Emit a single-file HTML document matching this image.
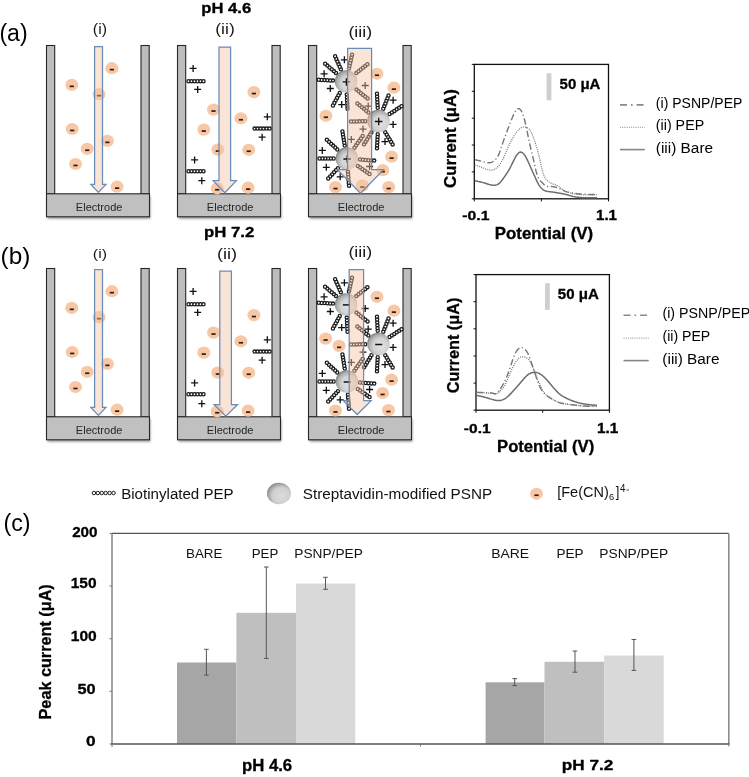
<!DOCTYPE html>
<html><head><meta charset="utf-8"><style>
html,body{margin:0;padding:0;background:#fff;width:749px;height:777px;overflow:hidden;position:relative}
text{font-family:"Liberation Sans",sans-serif}
text[font-weight="bold"]{stroke:#000;stroke-width:0.3px}
</style></head><body>
<svg width="749" height="777" viewBox="0 0 749 777" style="position:absolute;left:0;top:0;will-change:transform" font-family="Liberation Sans, sans-serif">
<defs>
<radialGradient id="sph" cx="0.58" cy="0.58" r="0.62" fx="0.62" fy="0.62">
<stop offset="0" stop-color="#e2e2e2"/><stop offset="0.55" stop-color="#d2d2d2"/><stop offset="0.85" stop-color="#a8a8a8"/><stop offset="1" stop-color="#6e6e6e"/></radialGradient>
<radialGradient id="sphL" cx="0.58" cy="0.58" r="0.62" fx="0.62" fy="0.62">
<stop offset="0" stop-color="#dcdcdc"/><stop offset="0.6" stop-color="#d0d0d0"/><stop offset="0.88" stop-color="#a0a0a0"/><stop offset="1" stop-color="#707070"/></radialGradient>
<filter id="soft" x="-30%" y="-30%" width="160%" height="160%"><feGaussianBlur stdDeviation="0.45"/></filter>
<filter id="shadow" x="-10%" y="-30%" width="120%" height="160%"><feGaussianBlur stdDeviation="1.3"/></filter>
</defs>
<rect width="749" height="777" fill="#fff"/>
<text x="-0.59" y="40.71" font-size="23.74" font-weight="normal" textLength="28.22" lengthAdjust="spacingAndGlyphs" fill="#000">(a)</text>
<text x="0.64" y="263.94" font-size="23.64" font-weight="normal" textLength="29.67" lengthAdjust="spacingAndGlyphs" fill="#000">(b)</text>
<text x="3.40" y="531.13" font-size="23.21" font-weight="normal" textLength="27.12" lengthAdjust="spacingAndGlyphs" fill="#000">(c)</text>
<text x="201.32" y="12.60" font-size="14.29" font-weight="bold" textLength="49.88" lengthAdjust="spacingAndGlyphs" fill="#000">pH 4.6</text>
<text x="203.91" y="237.28" font-size="14.84" font-weight="bold" textLength="50.38" lengthAdjust="spacingAndGlyphs" fill="#000">pH 7.2</text>
<text x="92.84" y="34.37" font-size="15.40" font-weight="normal" textLength="14.17" lengthAdjust="spacingAndGlyphs" fill="#1a1a1a">(i)</text>
<text x="215.25" y="34.24" font-size="14.12" font-weight="normal" textLength="19.50" lengthAdjust="spacingAndGlyphs" fill="#1a1a1a">(ii)</text>
<text x="348.43" y="36.64" font-size="14.12" font-weight="normal" textLength="23.79" lengthAdjust="spacingAndGlyphs" fill="#1a1a1a">(iii)</text>
<text x="92.84" y="258.19" font-size="13.37" font-weight="normal" textLength="14.17" lengthAdjust="spacingAndGlyphs" fill="#1a1a1a">(i)</text>
<text x="216.90" y="258.64" font-size="14.12" font-weight="normal" textLength="20.29" lengthAdjust="spacingAndGlyphs" fill="#1a1a1a">(ii)</text>
<text x="348.43" y="257.32" font-size="14.65" font-weight="normal" textLength="23.79" lengthAdjust="spacingAndGlyphs" fill="#1a1a1a">(iii)</text>
<rect x="46.5" y="45.5" width="8.2" height="148.3" fill="#bdbdbd" stroke="#262626" stroke-width="1.1"/>
<rect x="141.0" y="45.5" width="8.2" height="148.3" fill="#bdbdbd" stroke="#262626" stroke-width="1.1"/>
<rect x="47.5" y="196.0" width="103" height="23" fill="#000" opacity="0.35" filter="url(#shadow)"/>
<rect x="46.5" y="193.8" width="103" height="23" fill="#c0c0c0" stroke="#262626" stroke-width="1.1"/>
<text x="75.82" y="211.29" font-size="11.16" font-weight="normal" textLength="46.68" lengthAdjust="spacingAndGlyphs" fill="#262626">Electrode</text>
<ellipse cx="111.9" cy="68.2" rx="6.5" ry="6.1" fill="#f8c8a6" filter="url(#soft)"/>
<rect x="109.8" y="68.8" width="4.2" height="1.7" fill="#2b1d14"/>
<ellipse cx="71.8" cy="84.9" rx="6.5" ry="6.1" fill="#f8c8a6" filter="url(#soft)"/>
<rect x="69.7" y="85.5" width="4.2" height="1.7" fill="#2b1d14"/>
<ellipse cx="99.0" cy="94.2" rx="6.5" ry="6.1" fill="#f8c8a6" filter="url(#soft)"/>
<rect x="96.9" y="94.8" width="4.2" height="1.7" fill="#2b1d14"/>
<ellipse cx="72.2" cy="129.0" rx="6.5" ry="6.1" fill="#f8c8a6" filter="url(#soft)"/>
<rect x="70.1" y="129.6" width="4.2" height="1.7" fill="#2b1d14"/>
<ellipse cx="107.4" cy="140.9" rx="6.5" ry="6.1" fill="#f8c8a6" filter="url(#soft)"/>
<rect x="105.3" y="141.5" width="4.2" height="1.7" fill="#2b1d14"/>
<ellipse cx="87.2" cy="148.8" rx="6.5" ry="6.1" fill="#f8c8a6" filter="url(#soft)"/>
<rect x="85.1" y="149.4" width="4.2" height="1.7" fill="#2b1d14"/>
<ellipse cx="75.5" cy="164.0" rx="6.5" ry="6.1" fill="#f8c8a6" filter="url(#soft)"/>
<rect x="73.4" y="164.6" width="4.2" height="1.7" fill="#2b1d14"/>
<ellipse cx="117.1" cy="186.7" rx="6.5" ry="6.1" fill="#f8c8a6" filter="url(#soft)"/>
<rect x="115.0" y="187.3" width="4.2" height="1.7" fill="#2b1d14"/>
<path d="M94.6 46.6H102.5V184.4H106.0L98.4 192.4L90.8 184.4H94.6Z" fill="#f5c4a2" fill-opacity="0.45" stroke="#6a8cb8" stroke-width="1.25" stroke-linejoin="miter"/>
<rect x="177.5" y="45.5" width="8.2" height="148.3" fill="#bdbdbd" stroke="#262626" stroke-width="1.1"/>
<rect x="272.0" y="45.5" width="8.2" height="148.3" fill="#bdbdbd" stroke="#262626" stroke-width="1.1"/>
<rect x="178.5" y="196.0" width="103" height="23" fill="#000" opacity="0.35" filter="url(#shadow)"/>
<rect x="177.5" y="193.8" width="103" height="23" fill="#c0c0c0" stroke="#262626" stroke-width="1.1"/>
<text x="206.82" y="211.29" font-size="11.16" font-weight="normal" textLength="46.68" lengthAdjust="spacingAndGlyphs" fill="#262626">Electrode</text>
<ellipse cx="253.9" cy="92.1" rx="6.5" ry="6.1" fill="#f8c8a6" filter="url(#soft)"/>
<rect x="251.8" y="92.7" width="4.2" height="1.7" fill="#2b1d14"/>
<ellipse cx="213.5" cy="109.6" rx="6.5" ry="6.1" fill="#f8c8a6" filter="url(#soft)"/>
<rect x="211.4" y="110.2" width="4.2" height="1.7" fill="#2b1d14"/>
<ellipse cx="240.9" cy="118.3" rx="6.5" ry="6.1" fill="#f8c8a6" filter="url(#soft)"/>
<rect x="238.8" y="118.9" width="4.2" height="1.7" fill="#2b1d14"/>
<ellipse cx="203.8" cy="129.6" rx="6.5" ry="6.1" fill="#f8c8a6" filter="url(#soft)"/>
<rect x="201.7" y="130.2" width="4.2" height="1.7" fill="#2b1d14"/>
<ellipse cx="217.8" cy="149.6" rx="6.5" ry="6.1" fill="#f8c8a6" filter="url(#soft)"/>
<rect x="215.7" y="150.2" width="4.2" height="1.7" fill="#2b1d14"/>
<ellipse cx="248.7" cy="149.8" rx="6.5" ry="6.1" fill="#f8c8a6" filter="url(#soft)"/>
<rect x="246.6" y="150.4" width="4.2" height="1.7" fill="#2b1d14"/>
<ellipse cx="217.2" cy="188.3" rx="6.5" ry="6.1" fill="#f8c8a6" filter="url(#soft)"/>
<rect x="215.1" y="188.9" width="4.2" height="1.7" fill="#2b1d14"/>
<ellipse cx="248.1" cy="187.7" rx="6.5" ry="6.1" fill="#f8c8a6" filter="url(#soft)"/>
<rect x="246.0" y="188.3" width="4.2" height="1.7" fill="#2b1d14"/>
<g fill="#fff" stroke="#1a1a1a" stroke-width="1.3"><circle cx="188.50" cy="81.20" r="1.6"/><circle cx="191.50" cy="81.20" r="1.6"/><circle cx="194.50" cy="81.20" r="1.6"/><circle cx="197.50" cy="81.20" r="1.6"/><circle cx="200.50" cy="81.20" r="1.6"/><circle cx="203.50" cy="81.20" r="1.6"/></g>
<path d="M189.6 68.4H196.6M193.1 64.9V71.9" stroke="#111" stroke-width="1.3" fill="none"/>
<path d="M194.2 89.4H201.2M197.7 85.9V92.9" stroke="#111" stroke-width="1.3" fill="none"/>
<g fill="#fff" stroke="#1a1a1a" stroke-width="1.3"><circle cx="188.50" cy="171.20" r="1.6"/><circle cx="191.50" cy="171.20" r="1.6"/><circle cx="194.50" cy="171.20" r="1.6"/><circle cx="197.50" cy="171.20" r="1.6"/><circle cx="200.50" cy="171.20" r="1.6"/><circle cx="203.50" cy="171.20" r="1.6"/></g>
<path d="M191.1 159.9H198.1M194.6 156.4V163.4" stroke="#111" stroke-width="1.3" fill="none"/>
<path d="M198.3 180.7H205.3M201.8 177.2V184.2" stroke="#111" stroke-width="1.3" fill="none"/>
<g fill="#fff" stroke="#1a1a1a" stroke-width="1.3"><circle cx="254.60" cy="128.60" r="1.6"/><circle cx="257.60" cy="128.60" r="1.6"/><circle cx="260.60" cy="128.60" r="1.6"/><circle cx="263.60" cy="128.60" r="1.6"/><circle cx="266.60" cy="128.60" r="1.6"/><circle cx="269.60" cy="128.60" r="1.6"/></g>
<path d="M263.8 116.8H270.8M267.3 113.3V120.3" stroke="#111" stroke-width="1.3" fill="none"/>
<path d="M258.6 137.2H265.6M262.1 133.7V140.7" stroke="#111" stroke-width="1.3" fill="none"/>
<path d="M219.0 47.0H230.6V180.7H236.4L224.8 192.8L213.2 180.7H219.0Z" fill="#f5c4a2" fill-opacity="0.45" stroke="#6a8cb8" stroke-width="1.25" stroke-linejoin="miter"/>
<rect x="308.5" y="45.5" width="8.2" height="148.3" fill="#bdbdbd" stroke="#262626" stroke-width="1.1"/>
<rect x="403.0" y="45.5" width="8.2" height="148.3" fill="#bdbdbd" stroke="#262626" stroke-width="1.1"/>
<rect x="309.5" y="196.0" width="103" height="23" fill="#000" opacity="0.35" filter="url(#shadow)"/>
<rect x="308.5" y="193.8" width="103" height="23" fill="#c0c0c0" stroke="#262626" stroke-width="1.1"/>
<text x="337.82" y="211.29" font-size="11.16" font-weight="normal" textLength="46.68" lengthAdjust="spacingAndGlyphs" fill="#262626">Electrode</text>
<ellipse cx="377.0" cy="73.8" rx="6.5" ry="6.1" fill="#f8c8a6" filter="url(#soft)"/>
<rect x="374.9" y="74.4" width="4.2" height="1.7" fill="#2b1d14"/>
<ellipse cx="393.9" cy="87.7" rx="6.5" ry="6.1" fill="#f8c8a6" filter="url(#soft)"/>
<rect x="391.8" y="88.3" width="4.2" height="1.7" fill="#2b1d14"/>
<ellipse cx="325.9" cy="115.8" rx="6.5" ry="6.1" fill="#f8c8a6" filter="url(#soft)"/>
<rect x="323.8" y="116.4" width="4.2" height="1.7" fill="#2b1d14"/>
<ellipse cx="391.6" cy="156.7" rx="6.5" ry="6.1" fill="#f8c8a6" filter="url(#soft)"/>
<rect x="389.5" y="157.3" width="4.2" height="1.7" fill="#2b1d14"/>
<ellipse cx="382.8" cy="170.2" rx="6.5" ry="6.1" fill="#f8c8a6" filter="url(#soft)"/>
<rect x="380.7" y="170.8" width="4.2" height="1.7" fill="#2b1d14"/>
<ellipse cx="335.5" cy="187.1" rx="6.5" ry="6.1" fill="#f8c8a6" filter="url(#soft)"/>
<rect x="333.4" y="187.7" width="4.2" height="1.7" fill="#2b1d14"/>
<ellipse cx="362.3" cy="185.6" rx="6.5" ry="6.1" fill="#f8c8a6" filter="url(#soft)"/>
<rect x="360.2" y="186.2" width="4.2" height="1.7" fill="#2b1d14"/>
<ellipse cx="388.7" cy="187.1" rx="6.5" ry="6.1" fill="#f8c8a6" filter="url(#soft)"/>
<rect x="386.6" y="187.7" width="4.2" height="1.7" fill="#2b1d14"/>
<g fill="#fff" stroke="#1a1a1a" stroke-width="1.3"><circle cx="332.92" cy="80.62" r="1.6"/><circle cx="330.09" cy="80.45" r="1.6"/><circle cx="327.25" cy="80.28" r="1.6"/><circle cx="324.42" cy="80.11" r="1.6"/><circle cx="321.58" cy="79.94" r="1.6"/><circle cx="318.75" cy="79.78" r="1.6"/></g>
<g fill="#fff" stroke="#1a1a1a" stroke-width="1.3"><circle cx="335.99" cy="72.92" r="1.6"/><circle cx="333.81" cy="71.09" r="1.6"/><circle cx="331.64" cy="69.26" r="1.6"/><circle cx="329.46" cy="67.44" r="1.6"/><circle cx="327.29" cy="65.61" r="1.6"/><circle cx="325.11" cy="63.79" r="1.6"/></g>
<g fill="#fff" stroke="#1a1a1a" stroke-width="1.3"><circle cx="340.82" cy="69.30" r="1.6"/><circle cx="339.68" cy="66.70" r="1.6"/><circle cx="338.54" cy="64.10" r="1.6"/><circle cx="337.40" cy="61.50" r="1.6"/><circle cx="336.27" cy="58.89" r="1.6"/><circle cx="335.13" cy="56.29" r="1.6"/></g>
<g fill="#fff" stroke="#1a1a1a" stroke-width="1.3"><circle cx="348.96" cy="68.51" r="1.6"/><circle cx="349.57" cy="65.74" r="1.6"/><circle cx="350.19" cy="62.97" r="1.6"/><circle cx="350.80" cy="60.19" r="1.6"/><circle cx="351.42" cy="57.42" r="1.6"/><circle cx="352.03" cy="54.65" r="1.6"/></g>
<g fill="#fff" stroke="#1a1a1a" stroke-width="1.3"><circle cx="356.36" cy="73.09" r="1.6"/><circle cx="358.57" cy="71.31" r="1.6"/><circle cx="360.77" cy="69.52" r="1.6"/><circle cx="362.98" cy="67.73" r="1.6"/><circle cx="365.19" cy="65.94" r="1.6"/><circle cx="367.39" cy="64.16" r="1.6"/></g>
<g fill="#fff" stroke="#1a1a1a" stroke-width="1.3"><circle cx="356.44" cy="89.60" r="1.6"/><circle cx="358.67" cy="91.36" r="1.6"/><circle cx="360.90" cy="93.13" r="1.6"/><circle cx="363.12" cy="94.89" r="1.6"/><circle cx="365.35" cy="96.66" r="1.6"/><circle cx="367.57" cy="98.42" r="1.6"/></g>
<g fill="#fff" stroke="#1a1a1a" stroke-width="1.3"><circle cx="346.79" cy="94.58" r="1.6"/><circle cx="346.94" cy="97.42" r="1.6"/><circle cx="347.09" cy="100.25" r="1.6"/><circle cx="347.24" cy="103.09" r="1.6"/><circle cx="347.39" cy="105.93" r="1.6"/><circle cx="347.53" cy="108.76" r="1.6"/></g>
<g fill="#fff" stroke="#1a1a1a" stroke-width="1.3"><circle cx="339.76" cy="92.98" r="1.6"/><circle cx="338.40" cy="95.47" r="1.6"/><circle cx="337.03" cy="97.96" r="1.6"/><circle cx="335.67" cy="100.45" r="1.6"/><circle cx="334.31" cy="102.94" r="1.6"/><circle cx="332.94" cy="105.43" r="1.6"/></g>
<g fill="#fff" stroke="#1a1a1a" stroke-width="1.3"><circle cx="377.71" cy="107.82" r="1.6"/><circle cx="377.56" cy="104.98" r="1.6"/><circle cx="377.41" cy="102.15" r="1.6"/><circle cx="377.26" cy="99.31" r="1.6"/><circle cx="377.11" cy="96.47" r="1.6"/><circle cx="376.97" cy="93.64" r="1.6"/></g>
<g fill="#fff" stroke="#1a1a1a" stroke-width="1.3"><circle cx="383.28" cy="108.74" r="1.6"/><circle cx="384.33" cy="106.10" r="1.6"/><circle cx="385.38" cy="103.46" r="1.6"/><circle cx="386.43" cy="100.82" r="1.6"/><circle cx="387.48" cy="98.18" r="1.6"/><circle cx="388.53" cy="95.54" r="1.6"/></g>
<g fill="#fff" stroke="#1a1a1a" stroke-width="1.3"><circle cx="389.55" cy="113.93" r="1.6"/><circle cx="391.94" cy="112.41" r="1.6"/><circle cx="394.34" cy="110.88" r="1.6"/><circle cx="396.74" cy="109.36" r="1.6"/><circle cx="399.14" cy="107.84" r="1.6"/><circle cx="401.53" cy="106.32" r="1.6"/></g>
<g fill="#fff" stroke="#1a1a1a" stroke-width="1.3"><circle cx="365.20" cy="121.23" r="1.6"/><circle cx="362.36" cy="121.28" r="1.6"/><circle cx="359.52" cy="121.33" r="1.6"/><circle cx="356.68" cy="121.38" r="1.6"/><circle cx="353.84" cy="121.43" r="1.6"/><circle cx="351.00" cy="121.48" r="1.6"/></g>
<g fill="#fff" stroke="#1a1a1a" stroke-width="1.3"><circle cx="368.29" cy="112.52" r="1.6"/><circle cx="366.11" cy="110.69" r="1.6"/><circle cx="363.94" cy="108.86" r="1.6"/><circle cx="361.76" cy="107.04" r="1.6"/><circle cx="359.59" cy="105.21" r="1.6"/><circle cx="357.41" cy="103.39" r="1.6"/></g>
<g fill="#fff" stroke="#1a1a1a" stroke-width="1.3"><circle cx="371.48" cy="132.24" r="1.6"/><circle cx="370.00" cy="134.66" r="1.6"/><circle cx="368.51" cy="137.08" r="1.6"/><circle cx="367.02" cy="139.50" r="1.6"/><circle cx="365.53" cy="141.92" r="1.6"/><circle cx="364.04" cy="144.34" r="1.6"/></g>
<g fill="#fff" stroke="#1a1a1a" stroke-width="1.3"><circle cx="377.71" cy="134.18" r="1.6"/><circle cx="377.56" cy="137.02" r="1.6"/><circle cx="377.41" cy="139.85" r="1.6"/><circle cx="377.26" cy="142.69" r="1.6"/><circle cx="377.11" cy="145.53" r="1.6"/><circle cx="376.97" cy="148.36" r="1.6"/></g>
<g fill="#fff" stroke="#1a1a1a" stroke-width="1.3"><circle cx="385.26" cy="132.28" r="1.6"/><circle cx="386.73" cy="134.71" r="1.6"/><circle cx="388.21" cy="137.13" r="1.6"/><circle cx="389.68" cy="139.56" r="1.6"/><circle cx="391.16" cy="141.99" r="1.6"/><circle cx="392.63" cy="144.41" r="1.6"/></g>
<g fill="#fff" stroke="#1a1a1a" stroke-width="1.3"><circle cx="333.70" cy="158.50" r="1.6"/><circle cx="330.86" cy="158.50" r="1.6"/><circle cx="328.02" cy="158.50" r="1.6"/><circle cx="325.18" cy="158.50" r="1.6"/><circle cx="322.34" cy="158.50" r="1.6"/><circle cx="319.50" cy="158.50" r="1.6"/></g>
<g fill="#fff" stroke="#1a1a1a" stroke-width="1.3"><circle cx="337.25" cy="149.50" r="1.6"/><circle cx="335.17" cy="147.56" r="1.6"/><circle cx="333.09" cy="145.62" r="1.6"/><circle cx="331.01" cy="143.69" r="1.6"/><circle cx="328.94" cy="141.75" r="1.6"/><circle cx="326.86" cy="139.81" r="1.6"/></g>
<g fill="#fff" stroke="#1a1a1a" stroke-width="1.3"><circle cx="344.74" cy="145.48" r="1.6"/><circle cx="344.28" cy="142.68" r="1.6"/><circle cx="343.82" cy="139.87" r="1.6"/><circle cx="343.35" cy="137.07" r="1.6"/><circle cx="342.89" cy="134.27" r="1.6"/><circle cx="342.42" cy="131.47" r="1.6"/></g>
<g fill="#fff" stroke="#1a1a1a" stroke-width="1.3"><circle cx="354.47" cy="147.69" r="1.6"/><circle cx="356.10" cy="145.36" r="1.6"/><circle cx="357.73" cy="143.03" r="1.6"/><circle cx="359.36" cy="140.71" r="1.6"/><circle cx="360.99" cy="138.38" r="1.6"/><circle cx="362.62" cy="136.06" r="1.6"/></g>
<g fill="#fff" stroke="#1a1a1a" stroke-width="1.3"><circle cx="360.06" cy="159.51" r="1.6"/><circle cx="362.89" cy="159.73" r="1.6"/><circle cx="365.72" cy="159.95" r="1.6"/><circle cx="368.56" cy="160.17" r="1.6"/><circle cx="371.39" cy="160.38" r="1.6"/><circle cx="374.22" cy="160.60" r="1.6"/></g>
<g fill="#fff" stroke="#1a1a1a" stroke-width="1.3"><circle cx="357.79" cy="165.96" r="1.6"/><circle cx="360.13" cy="167.56" r="1.6"/><circle cx="362.48" cy="169.17" r="1.6"/><circle cx="364.82" cy="170.77" r="1.6"/><circle cx="367.16" cy="172.38" r="1.6"/><circle cx="369.51" cy="173.98" r="1.6"/></g>
<g fill="#fff" stroke="#1a1a1a" stroke-width="1.3"><circle cx="347.91" cy="171.66" r="1.6"/><circle cx="348.13" cy="174.49" r="1.6"/><circle cx="348.35" cy="177.32" r="1.6"/><circle cx="348.57" cy="180.16" r="1.6"/><circle cx="348.78" cy="182.99" r="1.6"/><circle cx="349.00" cy="185.82" r="1.6"/></g>
<g fill="#fff" stroke="#1a1a1a" stroke-width="1.3"><circle cx="337.90" cy="168.15" r="1.6"/><circle cx="335.96" cy="170.23" r="1.6"/><circle cx="334.02" cy="172.31" r="1.6"/><circle cx="332.09" cy="174.39" r="1.6"/><circle cx="330.15" cy="176.46" r="1.6"/><circle cx="328.21" cy="178.54" r="1.6"/></g>
<circle cx="346.1" cy="81.4" r="11.2" fill="url(#sph)"/>
<path d="M342.7 81.9H350.2M346.4 78.2V85.7" stroke="#111" stroke-width="1.35" fill="none"/>
<circle cx="378.4" cy="121.0" r="11.2" fill="url(#sph)"/>
<path d="M374.9 121.5H382.4M378.7 117.8V125.2" stroke="#111" stroke-width="1.35" fill="none"/>
<circle cx="346.9" cy="158.5" r="11.2" fill="url(#sph)"/>
<path d="M343.4 159.0H350.9M347.2 155.2V162.8" stroke="#111" stroke-width="1.35" fill="none"/>
<path d="M340.9 59.8H347.9M344.4 56.3V63.3" stroke="#111" stroke-width="1.3" fill="none"/>
<path d="M320.6 73.8H327.6M324.1 70.3V77.3" stroke="#111" stroke-width="1.3" fill="none"/>
<path d="M326.8 88.5H333.8M330.3 85.0V92.0" stroke="#111" stroke-width="1.3" fill="none"/>
<path d="M338.2 104.6H345.2M341.7 101.1V108.1" stroke="#111" stroke-width="1.3" fill="none"/>
<path d="M361.7 85.5H368.7M365.2 82.0V89.0" stroke="#111" stroke-width="1.3" fill="none"/>
<path d="M364.7 106.1H371.7M368.2 102.6V109.6" stroke="#111" stroke-width="1.3" fill="none"/>
<path d="M389.6 100.2H396.6M393.1 96.7V103.7" stroke="#111" stroke-width="1.3" fill="none"/>
<path d="M389.6 124.4H396.6M393.1 120.9V127.9" stroke="#111" stroke-width="1.3" fill="none"/>
<path d="M381.5 141.6H388.5M385.0 138.1V145.1" stroke="#111" stroke-width="1.3" fill="none"/>
<path d="M359.5 129.1H366.5M363.0 125.6V132.6" stroke="#111" stroke-width="1.3" fill="none"/>
<path d="M318.8 150.4H325.8M322.3 146.9V153.9" stroke="#111" stroke-width="1.3" fill="none"/>
<path d="M322.8 167.3H329.8M326.3 163.8V170.8" stroke="#111" stroke-width="1.3" fill="none"/>
<path d="M336.7 176.8H343.7M340.2 173.3V180.3" stroke="#111" stroke-width="1.3" fill="none"/>
<path d="M347.8 139.4H354.8M351.3 135.9V142.9" stroke="#111" stroke-width="1.3" fill="none"/>
<path d="M366.1 166.5H373.1M369.6 163.0V170.0" stroke="#111" stroke-width="1.3" fill="none"/>
<path d="M347.6 48.4H371.6V169.6H383.6L360.5 193.3L337.4 169.6H347.6Z" fill="#f5c4a2" fill-opacity="0.45" stroke="#6a8cb8" stroke-width="1.25" stroke-linejoin="miter"/>
<rect x="46.5" y="268.5" width="8.2" height="148.3" fill="#bdbdbd" stroke="#262626" stroke-width="1.1"/>
<rect x="141.0" y="268.5" width="8.2" height="148.3" fill="#bdbdbd" stroke="#262626" stroke-width="1.1"/>
<rect x="47.5" y="419.0" width="103" height="23" fill="#000" opacity="0.35" filter="url(#shadow)"/>
<rect x="46.5" y="416.8" width="103" height="23" fill="#c0c0c0" stroke="#262626" stroke-width="1.1"/>
<text x="75.82" y="434.29" font-size="11.16" font-weight="normal" textLength="46.68" lengthAdjust="spacingAndGlyphs" fill="#262626">Electrode</text>
<ellipse cx="111.9" cy="291.2" rx="6.5" ry="6.1" fill="#f8c8a6" filter="url(#soft)"/>
<rect x="109.8" y="291.8" width="4.2" height="1.7" fill="#2b1d14"/>
<ellipse cx="71.8" cy="307.9" rx="6.5" ry="6.1" fill="#f8c8a6" filter="url(#soft)"/>
<rect x="69.7" y="308.5" width="4.2" height="1.7" fill="#2b1d14"/>
<ellipse cx="99.0" cy="317.2" rx="6.5" ry="6.1" fill="#f8c8a6" filter="url(#soft)"/>
<rect x="96.9" y="317.8" width="4.2" height="1.7" fill="#2b1d14"/>
<ellipse cx="72.2" cy="352.0" rx="6.5" ry="6.1" fill="#f8c8a6" filter="url(#soft)"/>
<rect x="70.1" y="352.6" width="4.2" height="1.7" fill="#2b1d14"/>
<ellipse cx="107.4" cy="363.9" rx="6.5" ry="6.1" fill="#f8c8a6" filter="url(#soft)"/>
<rect x="105.3" y="364.5" width="4.2" height="1.7" fill="#2b1d14"/>
<ellipse cx="87.2" cy="371.8" rx="6.5" ry="6.1" fill="#f8c8a6" filter="url(#soft)"/>
<rect x="85.1" y="372.4" width="4.2" height="1.7" fill="#2b1d14"/>
<ellipse cx="75.5" cy="387.0" rx="6.5" ry="6.1" fill="#f8c8a6" filter="url(#soft)"/>
<rect x="73.4" y="387.6" width="4.2" height="1.7" fill="#2b1d14"/>
<ellipse cx="117.1" cy="409.7" rx="6.5" ry="6.1" fill="#f8c8a6" filter="url(#soft)"/>
<rect x="115.0" y="410.3" width="4.2" height="1.7" fill="#2b1d14"/>
<path d="M94.6 269.6H102.5V407.4H106.0L98.4 415.4L90.8 407.4H94.6Z" fill="#f5c4a2" fill-opacity="0.45" stroke="#6a8cb8" stroke-width="1.25" stroke-linejoin="miter"/>
<rect x="177.5" y="268.5" width="8.2" height="148.3" fill="#bdbdbd" stroke="#262626" stroke-width="1.1"/>
<rect x="272.0" y="268.5" width="8.2" height="148.3" fill="#bdbdbd" stroke="#262626" stroke-width="1.1"/>
<rect x="178.5" y="419.0" width="103" height="23" fill="#000" opacity="0.35" filter="url(#shadow)"/>
<rect x="177.5" y="416.8" width="103" height="23" fill="#c0c0c0" stroke="#262626" stroke-width="1.1"/>
<text x="206.82" y="434.29" font-size="11.16" font-weight="normal" textLength="46.68" lengthAdjust="spacingAndGlyphs" fill="#262626">Electrode</text>
<ellipse cx="253.9" cy="315.1" rx="6.5" ry="6.1" fill="#f8c8a6" filter="url(#soft)"/>
<rect x="251.8" y="315.7" width="4.2" height="1.7" fill="#2b1d14"/>
<ellipse cx="213.5" cy="332.6" rx="6.5" ry="6.1" fill="#f8c8a6" filter="url(#soft)"/>
<rect x="211.4" y="333.2" width="4.2" height="1.7" fill="#2b1d14"/>
<ellipse cx="240.9" cy="341.3" rx="6.5" ry="6.1" fill="#f8c8a6" filter="url(#soft)"/>
<rect x="238.8" y="341.9" width="4.2" height="1.7" fill="#2b1d14"/>
<ellipse cx="203.8" cy="352.6" rx="6.5" ry="6.1" fill="#f8c8a6" filter="url(#soft)"/>
<rect x="201.7" y="353.2" width="4.2" height="1.7" fill="#2b1d14"/>
<ellipse cx="217.8" cy="372.6" rx="6.5" ry="6.1" fill="#f8c8a6" filter="url(#soft)"/>
<rect x="215.7" y="373.2" width="4.2" height="1.7" fill="#2b1d14"/>
<ellipse cx="248.7" cy="372.8" rx="6.5" ry="6.1" fill="#f8c8a6" filter="url(#soft)"/>
<rect x="246.6" y="373.4" width="4.2" height="1.7" fill="#2b1d14"/>
<ellipse cx="217.2" cy="411.3" rx="6.5" ry="6.1" fill="#f8c8a6" filter="url(#soft)"/>
<rect x="215.1" y="411.9" width="4.2" height="1.7" fill="#2b1d14"/>
<ellipse cx="248.1" cy="410.7" rx="6.5" ry="6.1" fill="#f8c8a6" filter="url(#soft)"/>
<rect x="246.0" y="411.3" width="4.2" height="1.7" fill="#2b1d14"/>
<g fill="#fff" stroke="#1a1a1a" stroke-width="1.3"><circle cx="188.50" cy="304.20" r="1.6"/><circle cx="191.50" cy="304.20" r="1.6"/><circle cx="194.50" cy="304.20" r="1.6"/><circle cx="197.50" cy="304.20" r="1.6"/><circle cx="200.50" cy="304.20" r="1.6"/><circle cx="203.50" cy="304.20" r="1.6"/></g>
<path d="M189.6 291.4H196.6M193.1 287.9V294.9" stroke="#111" stroke-width="1.3" fill="none"/>
<path d="M194.2 312.4H201.2M197.7 308.9V315.9" stroke="#111" stroke-width="1.3" fill="none"/>
<g fill="#fff" stroke="#1a1a1a" stroke-width="1.3"><circle cx="188.50" cy="394.20" r="1.6"/><circle cx="191.50" cy="394.20" r="1.6"/><circle cx="194.50" cy="394.20" r="1.6"/><circle cx="197.50" cy="394.20" r="1.6"/><circle cx="200.50" cy="394.20" r="1.6"/><circle cx="203.50" cy="394.20" r="1.6"/></g>
<path d="M191.1 382.9H198.1M194.6 379.4V386.4" stroke="#111" stroke-width="1.3" fill="none"/>
<path d="M198.3 403.7H205.3M201.8 400.2V407.2" stroke="#111" stroke-width="1.3" fill="none"/>
<g fill="#fff" stroke="#1a1a1a" stroke-width="1.3"><circle cx="254.60" cy="351.60" r="1.6"/><circle cx="257.60" cy="351.60" r="1.6"/><circle cx="260.60" cy="351.60" r="1.6"/><circle cx="263.60" cy="351.60" r="1.6"/><circle cx="266.60" cy="351.60" r="1.6"/><circle cx="269.60" cy="351.60" r="1.6"/></g>
<path d="M263.8 339.8H270.8M267.3 336.3V343.3" stroke="#111" stroke-width="1.3" fill="none"/>
<path d="M258.6 360.2H265.6M262.1 356.7V363.7" stroke="#111" stroke-width="1.3" fill="none"/>
<path d="M219.8 271.0H231.4V404.5H237.6L225.8 416.2L214.1 404.5H219.8Z" fill="#f5c4a2" fill-opacity="0.45" stroke="#6a8cb8" stroke-width="1.25" stroke-linejoin="miter"/>
<rect x="308.5" y="268.5" width="8.2" height="148.3" fill="#bdbdbd" stroke="#262626" stroke-width="1.1"/>
<rect x="403.0" y="268.5" width="8.2" height="148.3" fill="#bdbdbd" stroke="#262626" stroke-width="1.1"/>
<rect x="309.5" y="419.0" width="103" height="23" fill="#000" opacity="0.35" filter="url(#shadow)"/>
<rect x="308.5" y="416.8" width="103" height="23" fill="#c0c0c0" stroke="#262626" stroke-width="1.1"/>
<text x="337.82" y="434.29" font-size="11.16" font-weight="normal" textLength="46.68" lengthAdjust="spacingAndGlyphs" fill="#262626">Electrode</text>
<ellipse cx="377.0" cy="296.8" rx="6.5" ry="6.1" fill="#f8c8a6" filter="url(#soft)"/>
<rect x="374.9" y="297.4" width="4.2" height="1.7" fill="#2b1d14"/>
<ellipse cx="393.9" cy="310.7" rx="6.5" ry="6.1" fill="#f8c8a6" filter="url(#soft)"/>
<rect x="391.8" y="311.3" width="4.2" height="1.7" fill="#2b1d14"/>
<ellipse cx="325.6" cy="338.6" rx="6.5" ry="6.1" fill="#f8c8a6" filter="url(#soft)"/>
<rect x="323.5" y="339.2" width="4.2" height="1.7" fill="#2b1d14"/>
<ellipse cx="339.1" cy="345.9" rx="6.5" ry="6.1" fill="#f8c8a6" filter="url(#soft)"/>
<rect x="337.0" y="346.5" width="4.2" height="1.7" fill="#2b1d14"/>
<ellipse cx="391.6" cy="379.7" rx="6.5" ry="6.1" fill="#f8c8a6" filter="url(#soft)"/>
<rect x="389.5" y="380.3" width="4.2" height="1.7" fill="#2b1d14"/>
<ellipse cx="382.6" cy="393.0" rx="6.5" ry="6.1" fill="#f8c8a6" filter="url(#soft)"/>
<rect x="380.5" y="393.6" width="4.2" height="1.7" fill="#2b1d14"/>
<ellipse cx="335.5" cy="410.5" rx="6.5" ry="6.1" fill="#f8c8a6" filter="url(#soft)"/>
<rect x="333.4" y="411.1" width="4.2" height="1.7" fill="#2b1d14"/>
<ellipse cx="388.4" cy="410.1" rx="6.5" ry="6.1" fill="#f8c8a6" filter="url(#soft)"/>
<rect x="386.3" y="410.7" width="4.2" height="1.7" fill="#2b1d14"/>
<g fill="#fff" stroke="#1a1a1a" stroke-width="1.3"><circle cx="332.92" cy="303.62" r="1.6"/><circle cx="330.09" cy="303.45" r="1.6"/><circle cx="327.25" cy="303.28" r="1.6"/><circle cx="324.42" cy="303.11" r="1.6"/><circle cx="321.58" cy="302.94" r="1.6"/><circle cx="318.75" cy="302.78" r="1.6"/></g>
<g fill="#fff" stroke="#1a1a1a" stroke-width="1.3"><circle cx="335.99" cy="295.92" r="1.6"/><circle cx="333.81" cy="294.09" r="1.6"/><circle cx="331.64" cy="292.26" r="1.6"/><circle cx="329.46" cy="290.44" r="1.6"/><circle cx="327.29" cy="288.61" r="1.6"/><circle cx="325.11" cy="286.79" r="1.6"/></g>
<g fill="#fff" stroke="#1a1a1a" stroke-width="1.3"><circle cx="340.82" cy="292.30" r="1.6"/><circle cx="339.68" cy="289.70" r="1.6"/><circle cx="338.54" cy="287.10" r="1.6"/><circle cx="337.40" cy="284.50" r="1.6"/><circle cx="336.27" cy="281.89" r="1.6"/><circle cx="335.13" cy="279.29" r="1.6"/></g>
<g fill="#fff" stroke="#1a1a1a" stroke-width="1.3"><circle cx="348.96" cy="291.51" r="1.6"/><circle cx="349.57" cy="288.74" r="1.6"/><circle cx="350.19" cy="285.97" r="1.6"/><circle cx="350.80" cy="283.19" r="1.6"/><circle cx="351.42" cy="280.42" r="1.6"/><circle cx="352.03" cy="277.65" r="1.6"/></g>
<g fill="#fff" stroke="#1a1a1a" stroke-width="1.3"><circle cx="356.36" cy="296.09" r="1.6"/><circle cx="358.57" cy="294.31" r="1.6"/><circle cx="360.77" cy="292.52" r="1.6"/><circle cx="362.98" cy="290.73" r="1.6"/><circle cx="365.19" cy="288.94" r="1.6"/><circle cx="367.39" cy="287.16" r="1.6"/></g>
<g fill="#fff" stroke="#1a1a1a" stroke-width="1.3"><circle cx="356.44" cy="312.60" r="1.6"/><circle cx="358.67" cy="314.36" r="1.6"/><circle cx="360.90" cy="316.13" r="1.6"/><circle cx="363.12" cy="317.89" r="1.6"/><circle cx="365.35" cy="319.66" r="1.6"/><circle cx="367.57" cy="321.42" r="1.6"/></g>
<g fill="#fff" stroke="#1a1a1a" stroke-width="1.3"><circle cx="346.79" cy="317.58" r="1.6"/><circle cx="346.94" cy="320.42" r="1.6"/><circle cx="347.09" cy="323.25" r="1.6"/><circle cx="347.24" cy="326.09" r="1.6"/><circle cx="347.39" cy="328.93" r="1.6"/><circle cx="347.53" cy="331.76" r="1.6"/></g>
<g fill="#fff" stroke="#1a1a1a" stroke-width="1.3"><circle cx="339.76" cy="315.98" r="1.6"/><circle cx="338.40" cy="318.47" r="1.6"/><circle cx="337.03" cy="320.96" r="1.6"/><circle cx="335.67" cy="323.45" r="1.6"/><circle cx="334.31" cy="325.94" r="1.6"/><circle cx="332.94" cy="328.43" r="1.6"/></g>
<g fill="#fff" stroke="#1a1a1a" stroke-width="1.3"><circle cx="377.71" cy="330.82" r="1.6"/><circle cx="377.56" cy="327.98" r="1.6"/><circle cx="377.41" cy="325.15" r="1.6"/><circle cx="377.26" cy="322.31" r="1.6"/><circle cx="377.11" cy="319.47" r="1.6"/><circle cx="376.97" cy="316.64" r="1.6"/></g>
<g fill="#fff" stroke="#1a1a1a" stroke-width="1.3"><circle cx="383.28" cy="331.74" r="1.6"/><circle cx="384.33" cy="329.10" r="1.6"/><circle cx="385.38" cy="326.46" r="1.6"/><circle cx="386.43" cy="323.82" r="1.6"/><circle cx="387.48" cy="321.18" r="1.6"/><circle cx="388.53" cy="318.54" r="1.6"/></g>
<g fill="#fff" stroke="#1a1a1a" stroke-width="1.3"><circle cx="389.55" cy="336.93" r="1.6"/><circle cx="391.94" cy="335.41" r="1.6"/><circle cx="394.34" cy="333.88" r="1.6"/><circle cx="396.74" cy="332.36" r="1.6"/><circle cx="399.14" cy="330.84" r="1.6"/><circle cx="401.53" cy="329.32" r="1.6"/></g>
<g fill="#fff" stroke="#1a1a1a" stroke-width="1.3"><circle cx="365.20" cy="344.23" r="1.6"/><circle cx="362.36" cy="344.28" r="1.6"/><circle cx="359.52" cy="344.33" r="1.6"/><circle cx="356.68" cy="344.38" r="1.6"/><circle cx="353.84" cy="344.43" r="1.6"/><circle cx="351.00" cy="344.48" r="1.6"/></g>
<g fill="#fff" stroke="#1a1a1a" stroke-width="1.3"><circle cx="368.29" cy="335.52" r="1.6"/><circle cx="366.11" cy="333.69" r="1.6"/><circle cx="363.94" cy="331.86" r="1.6"/><circle cx="361.76" cy="330.04" r="1.6"/><circle cx="359.59" cy="328.21" r="1.6"/><circle cx="357.41" cy="326.39" r="1.6"/></g>
<g fill="#fff" stroke="#1a1a1a" stroke-width="1.3"><circle cx="371.48" cy="355.24" r="1.6"/><circle cx="370.00" cy="357.66" r="1.6"/><circle cx="368.51" cy="360.08" r="1.6"/><circle cx="367.02" cy="362.50" r="1.6"/><circle cx="365.53" cy="364.92" r="1.6"/><circle cx="364.04" cy="367.34" r="1.6"/></g>
<g fill="#fff" stroke="#1a1a1a" stroke-width="1.3"><circle cx="377.71" cy="357.18" r="1.6"/><circle cx="377.56" cy="360.02" r="1.6"/><circle cx="377.41" cy="362.85" r="1.6"/><circle cx="377.26" cy="365.69" r="1.6"/><circle cx="377.11" cy="368.53" r="1.6"/><circle cx="376.97" cy="371.36" r="1.6"/></g>
<g fill="#fff" stroke="#1a1a1a" stroke-width="1.3"><circle cx="385.26" cy="355.28" r="1.6"/><circle cx="386.73" cy="357.71" r="1.6"/><circle cx="388.21" cy="360.13" r="1.6"/><circle cx="389.68" cy="362.56" r="1.6"/><circle cx="391.16" cy="364.99" r="1.6"/><circle cx="392.63" cy="367.41" r="1.6"/></g>
<g fill="#fff" stroke="#1a1a1a" stroke-width="1.3"><circle cx="333.70" cy="381.50" r="1.6"/><circle cx="330.86" cy="381.50" r="1.6"/><circle cx="328.02" cy="381.50" r="1.6"/><circle cx="325.18" cy="381.50" r="1.6"/><circle cx="322.34" cy="381.50" r="1.6"/><circle cx="319.50" cy="381.50" r="1.6"/></g>
<g fill="#fff" stroke="#1a1a1a" stroke-width="1.3"><circle cx="337.25" cy="372.50" r="1.6"/><circle cx="335.17" cy="370.56" r="1.6"/><circle cx="333.09" cy="368.62" r="1.6"/><circle cx="331.01" cy="366.69" r="1.6"/><circle cx="328.94" cy="364.75" r="1.6"/><circle cx="326.86" cy="362.81" r="1.6"/></g>
<g fill="#fff" stroke="#1a1a1a" stroke-width="1.3"><circle cx="344.74" cy="368.48" r="1.6"/><circle cx="344.28" cy="365.68" r="1.6"/><circle cx="343.82" cy="362.87" r="1.6"/><circle cx="343.35" cy="360.07" r="1.6"/><circle cx="342.89" cy="357.27" r="1.6"/><circle cx="342.42" cy="354.47" r="1.6"/></g>
<g fill="#fff" stroke="#1a1a1a" stroke-width="1.3"><circle cx="354.47" cy="370.69" r="1.6"/><circle cx="356.10" cy="368.36" r="1.6"/><circle cx="357.73" cy="366.03" r="1.6"/><circle cx="359.36" cy="363.71" r="1.6"/><circle cx="360.99" cy="361.38" r="1.6"/><circle cx="362.62" cy="359.06" r="1.6"/></g>
<g fill="#fff" stroke="#1a1a1a" stroke-width="1.3"><circle cx="360.06" cy="382.51" r="1.6"/><circle cx="362.89" cy="382.73" r="1.6"/><circle cx="365.72" cy="382.95" r="1.6"/><circle cx="368.56" cy="383.17" r="1.6"/><circle cx="371.39" cy="383.38" r="1.6"/><circle cx="374.22" cy="383.60" r="1.6"/></g>
<g fill="#fff" stroke="#1a1a1a" stroke-width="1.3"><circle cx="357.79" cy="388.96" r="1.6"/><circle cx="360.13" cy="390.56" r="1.6"/><circle cx="362.48" cy="392.17" r="1.6"/><circle cx="364.82" cy="393.77" r="1.6"/><circle cx="367.16" cy="395.38" r="1.6"/><circle cx="369.51" cy="396.98" r="1.6"/></g>
<g fill="#fff" stroke="#1a1a1a" stroke-width="1.3"><circle cx="347.91" cy="394.66" r="1.6"/><circle cx="348.13" cy="397.49" r="1.6"/><circle cx="348.35" cy="400.32" r="1.6"/><circle cx="348.57" cy="403.16" r="1.6"/><circle cx="348.78" cy="405.99" r="1.6"/><circle cx="349.00" cy="408.82" r="1.6"/></g>
<g fill="#fff" stroke="#1a1a1a" stroke-width="1.3"><circle cx="337.90" cy="391.15" r="1.6"/><circle cx="335.96" cy="393.23" r="1.6"/><circle cx="334.02" cy="395.31" r="1.6"/><circle cx="332.09" cy="397.39" r="1.6"/><circle cx="330.15" cy="399.46" r="1.6"/><circle cx="328.21" cy="401.54" r="1.6"/></g>
<circle cx="346.1" cy="304.4" r="11.2" fill="url(#sph)"/>
<path d="M342.9 304.9H349.9" stroke="#111" stroke-width="1.5" fill="none"/>
<circle cx="378.4" cy="344.0" r="11.2" fill="url(#sph)"/>
<path d="M375.2 344.5H382.2" stroke="#111" stroke-width="1.5" fill="none"/>
<circle cx="346.9" cy="381.5" r="11.2" fill="url(#sph)"/>
<path d="M343.7 382.0H350.7" stroke="#111" stroke-width="1.5" fill="none"/>
<path d="M340.9 282.8H347.9M344.4 279.3V286.3" stroke="#111" stroke-width="1.3" fill="none"/>
<path d="M320.6 296.8H327.6M324.1 293.3V300.3" stroke="#111" stroke-width="1.3" fill="none"/>
<path d="M326.8 311.5H333.8M330.3 308.0V315.0" stroke="#111" stroke-width="1.3" fill="none"/>
<path d="M338.2 327.6H345.2M341.7 324.1V331.1" stroke="#111" stroke-width="1.3" fill="none"/>
<path d="M361.7 308.5H368.7M365.2 305.0V312.0" stroke="#111" stroke-width="1.3" fill="none"/>
<path d="M364.7 329.1H371.7M368.2 325.6V332.6" stroke="#111" stroke-width="1.3" fill="none"/>
<path d="M389.6 323.2H396.6M393.1 319.7V326.7" stroke="#111" stroke-width="1.3" fill="none"/>
<path d="M389.6 347.4H396.6M393.1 343.9V350.9" stroke="#111" stroke-width="1.3" fill="none"/>
<path d="M381.5 364.6H388.5M385.0 361.1V368.1" stroke="#111" stroke-width="1.3" fill="none"/>
<path d="M359.5 352.1H366.5M363.0 348.6V355.6" stroke="#111" stroke-width="1.3" fill="none"/>
<path d="M318.8 373.4H325.8M322.3 369.9V376.9" stroke="#111" stroke-width="1.3" fill="none"/>
<path d="M322.8 390.3H329.8M326.3 386.8V393.8" stroke="#111" stroke-width="1.3" fill="none"/>
<path d="M336.7 399.8H343.7M340.2 396.3V403.3" stroke="#111" stroke-width="1.3" fill="none"/>
<path d="M347.8 362.4H354.8M351.3 358.9V365.9" stroke="#111" stroke-width="1.3" fill="none"/>
<path d="M366.1 389.5H373.1M369.6 386.0V393.0" stroke="#111" stroke-width="1.3" fill="none"/>
<path d="M349.2 269.6H363.6V400.6H371.1L357.2 414.5L343.3 400.6H349.2Z" fill="#f5c4a2" fill-opacity="0.45" stroke="#6a8cb8" stroke-width="1.25" stroke-linejoin="miter"/>
<rect x="474.3" y="64.4" width="134.2" height="134.4" fill="none" stroke="#111" stroke-width="1.3"/>
<path d="M471.8 64.4H474.3M471.8 91.3H474.3M471.8 118.2H474.3M471.8 145.0H474.3M471.8 171.9H474.3M471.8 198.8H474.3M474.3 198.8V201.4M541.4 198.8V201.4M608.5 198.8V201.4" stroke="#111" stroke-width="1" fill="none"/>
<path d="M474.80 180.80 L475.55 180.94 L476.30 181.07 L477.05 181.21 L477.80 181.36 L478.55 181.51 L479.30 181.67 L480.05 181.83 L480.80 182.01 L481.55 182.20 L482.30 182.40 L483.05 182.62 L483.80 182.85 L484.55 183.08 L485.30 183.32 L486.05 183.56 L486.80 183.79 L487.55 184.02 L488.30 184.24 L489.05 184.45 L489.80 184.64 L490.55 184.81 L491.30 184.95 L492.05 185.06 L492.80 185.15 L493.55 185.19 L494.30 185.20 L495.05 185.16 L495.80 185.06 L496.55 184.88 L497.30 184.61 L498.05 184.24 L498.80 183.74 L499.55 183.11 L500.30 182.36 L501.05 181.51 L501.80 180.56 L502.55 179.56 L503.30 178.51 L504.05 177.43 L504.80 176.34 L505.55 175.24 L506.30 174.13 L507.05 172.98 L507.80 171.80 L508.55 170.57 L509.30 169.28 L510.05 167.93 L510.80 166.50 L511.55 164.99 L512.30 163.45 L513.05 161.89 L513.80 160.36 L514.55 158.88 L515.30 157.48 L516.05 156.19 L516.80 155.05 L517.55 154.06 L518.30 153.26 L519.05 152.65 L519.80 152.25 L520.55 152.08 L521.30 152.15 L522.05 152.45 L522.80 152.96 L523.55 153.68 L524.30 154.60 L525.05 155.69 L525.80 156.95 L526.55 158.35 L527.30 159.86 L528.05 161.45 L528.80 163.11 L529.55 164.80 L530.30 166.49 L531.05 168.18 L531.80 169.87 L532.55 171.54 L533.30 173.22 L534.05 174.88 L534.80 176.55 L535.55 178.20 L536.30 179.84 L537.05 181.42 L537.80 182.91 L538.55 184.29 L539.30 185.52 L540.05 186.60 L540.80 187.53 L541.55 188.33 L542.30 189.01 L543.05 189.58 L543.80 190.06 L544.55 190.46 L545.30 190.78 L546.05 191.04 L546.80 191.24 L547.55 191.40 L548.30 191.53 L549.05 191.63 L549.80 191.72 L550.55 191.81 L551.30 191.90 L552.05 192.00 L552.80 192.10 L553.55 192.21 L554.30 192.32 L555.05 192.44 L555.80 192.56 L556.55 192.68 L557.30 192.81 L558.05 192.94 L558.80 193.07 L559.55 193.20 L560.30 193.34 L561.05 193.47 L561.80 193.61 L562.55 193.75 L563.30 193.90 L564.05 194.05 L564.80 194.22 L565.55 194.39 L566.30 194.57 L567.05 194.77 L567.80 194.98 L568.55 195.19 L569.30 195.41 L570.05 195.63 L570.80 195.85 L571.55 196.07 L572.30 196.27 L573.05 196.47 L573.80 196.64 L574.55 196.80 L575.30 196.94 L576.05 197.07 L576.80 197.18 L577.55 197.28 L578.30 197.36 L579.05 197.43 L579.80 197.50 L580.55 197.55 L581.30 197.60 L582.05 197.64 L582.80 197.68 L583.55 197.71 L584.30 197.73 L585.05 197.75 L585.80 197.77 L586.55 197.78 L587.30 197.78 L588.05 197.79 L588.80 197.79 L589.55 197.78 L590.30 197.77 L591.05 197.76 L591.80 197.75 L592.55 197.74 L593.30 197.72 L594.05 197.70 L594.80 197.68 L595.55 197.66 L596.30 197.64 L597.05 197.62" fill="none" stroke="#6d6d6d" stroke-width="1.5"/>
<path d="M474.80 165.00 L475.55 165.24 L476.30 165.48 L477.05 165.73 L477.80 165.98 L478.55 166.23 L479.30 166.49 L480.05 166.75 L480.80 167.03 L481.55 167.31 L482.30 167.60 L483.05 167.91 L483.80 168.21 L484.55 168.52 L485.30 168.82 L486.05 169.10 L486.80 169.36 L487.55 169.59 L488.30 169.79 L489.05 169.95 L489.80 170.06 L490.55 170.11 L491.30 170.10 L492.05 170.02 L492.80 169.87 L493.55 169.65 L494.30 169.35 L495.05 168.96 L495.80 168.49 L496.55 167.94 L497.30 167.29 L498.05 166.54 L498.80 165.70 L499.55 164.75 L500.30 163.70 L501.05 162.54 L501.80 161.26 L502.55 159.88 L503.30 158.37 L504.05 156.76 L504.80 155.07 L505.55 153.33 L506.30 151.57 L507.05 149.80 L507.80 148.06 L508.55 146.38 L509.30 144.76 L510.05 143.19 L510.80 141.69 L511.55 140.25 L512.30 138.87 L513.05 137.56 L513.80 136.30 L514.55 135.11 L515.30 133.98 L516.05 132.93 L516.80 131.94 L517.55 131.03 L518.30 130.20 L519.05 129.45 L519.80 128.78 L520.55 128.19 L521.30 127.71 L522.05 127.32 L522.80 127.04 L523.55 126.86 L524.30 126.80 L525.05 126.85 L525.80 127.02 L526.55 127.30 L527.30 127.69 L528.05 128.19 L528.80 128.83 L529.55 129.65 L530.30 130.67 L531.05 131.94 L531.80 133.48 L532.55 135.27 L533.30 137.24 L534.05 139.36 L534.80 141.56 L535.55 143.81 L536.30 146.12 L537.05 148.54 L537.80 151.13 L538.55 153.96 L539.30 157.08 L540.05 160.43 L540.80 163.84 L541.55 167.16 L542.30 170.21 L543.05 172.83 L543.80 174.95 L544.55 176.64 L545.30 177.98 L546.05 179.05 L546.80 179.94 L547.55 180.70 L548.30 181.36 L549.05 181.94 L549.80 182.43 L550.55 182.86 L551.30 183.23 L552.05 183.56 L552.80 183.85 L553.55 184.13 L554.30 184.39 L555.05 184.66 L555.80 184.95 L556.55 185.26 L557.30 185.61 L558.05 186.02 L558.80 186.49 L559.55 187.02 L560.30 187.58 L561.05 188.17 L561.80 188.77 L562.55 189.35 L563.30 189.91 L564.05 190.43 L564.80 190.89 L565.55 191.30 L566.30 191.66 L567.05 191.98 L567.80 192.26 L568.55 192.51 L569.30 192.73 L570.05 192.93 L570.80 193.10 L571.55 193.27 L572.30 193.43 L573.05 193.58 L573.80 193.72 L574.55 193.85 L575.30 193.98 L576.05 194.09 L576.80 194.20 L577.55 194.31 L578.30 194.40 L579.05 194.49 L579.80 194.57 L580.55 194.64 L581.30 194.70 L582.05 194.75 L582.80 194.80 L583.55 194.84 L584.30 194.87 L585.05 194.90 L585.80 194.92 L586.55 194.93 L587.30 194.94 L588.05 194.94 L588.80 194.94 L589.55 194.94 L590.30 194.93 L591.05 194.91 L591.80 194.90 L592.55 194.88 L593.30 194.86 L594.05 194.83 L594.80 194.81 L595.55 194.78 L596.30 194.75 L597.05 194.72" fill="none" stroke="#7c7c7c" stroke-width="1.2" stroke-dasharray="1.1 1.1"/>
<path d="M474.80 159.70 L475.55 159.87 L476.30 160.03 L477.05 160.20 L477.80 160.37 L478.55 160.55 L479.30 160.73 L480.05 160.91 L480.80 161.10 L481.55 161.30 L482.30 161.50 L483.05 161.72 L483.80 161.93 L484.55 162.13 L485.30 162.33 L486.05 162.50 L486.80 162.63 L487.55 162.74 L488.30 162.79 L489.05 162.79 L489.80 162.73 L490.55 162.60 L491.30 162.40 L492.05 162.11 L492.80 161.73 L493.55 161.26 L494.30 160.68 L495.05 160.00 L495.80 159.21 L496.55 158.30 L497.30 157.23 L498.05 155.95 L498.80 154.41 L499.55 152.58 L500.30 150.50 L501.05 148.25 L501.80 145.92 L502.55 143.60 L503.30 141.36 L504.05 139.24 L504.80 137.19 L505.55 135.20 L506.30 133.23 L507.05 131.26 L507.80 129.27 L508.55 127.28 L509.30 125.29 L510.05 123.32 L510.80 121.38 L511.55 119.48 L512.30 117.65 L513.05 115.91 L513.80 114.29 L514.55 112.80 L515.30 111.48 L516.05 110.36 L516.80 109.48 L517.55 108.90 L518.30 108.63 L519.05 108.70 L519.80 109.10 L520.55 109.84 L521.30 110.90 L522.05 112.30 L522.80 114.06 L523.55 116.20 L524.30 118.76 L525.05 121.71 L525.80 124.99 L526.55 128.52 L527.30 132.21 L528.05 135.99 L528.80 139.73 L529.55 143.32 L530.30 146.64 L531.05 149.72 L531.80 152.69 L532.55 155.70 L533.30 158.90 L534.05 162.30 L534.80 165.75 L535.55 169.05 L536.30 172.01 L537.05 174.47 L537.80 176.47 L538.55 178.08 L539.30 179.36 L540.05 180.38 L540.80 181.23 L541.55 182.00 L542.30 182.77 L543.05 183.57 L543.80 184.35 L544.55 185.06 L545.30 185.64 L546.05 186.05 L546.80 186.31 L547.55 186.46 L548.30 186.53 L549.05 186.54 L549.80 186.52 L550.55 186.51 L551.30 186.53 L552.05 186.58 L552.80 186.67 L553.55 186.78 L554.30 186.92 L555.05 187.10 L555.80 187.29 L556.55 187.52 L557.30 187.77 L558.05 188.04 L558.80 188.34 L559.55 188.65 L560.30 188.99 L561.05 189.33 L561.80 189.69 L562.55 190.04 L563.30 190.39 L564.05 190.73 L564.80 191.06 L565.55 191.36 L566.30 191.63 L567.05 191.87 L567.80 192.08 L568.55 192.25 L569.30 192.40 L570.05 192.54 L570.80 192.66 L571.55 192.78 L572.30 192.90 L573.05 193.02 L573.80 193.14 L574.55 193.25 L575.30 193.37 L576.05 193.48 L576.80 193.59 L577.55 193.69 L578.30 193.79 L579.05 193.87 L579.80 193.95 L580.55 194.02 L581.30 194.09 L582.05 194.15 L582.80 194.20 L583.55 194.24 L584.30 194.28 L585.05 194.31 L585.80 194.34 L586.55 194.37 L587.30 194.38 L588.05 194.40 L588.80 194.41 L589.55 194.42 L590.30 194.43 L591.05 194.43 L591.80 194.44 L592.55 194.44 L593.30 194.43 L594.05 194.43 L594.80 194.42 L595.55 194.42 L596.30 194.41 L597.05 194.41" fill="none" stroke="#777" stroke-width="1.4" stroke-dasharray="6.5 2.6 1.2 2.6"/>
<rect x="476.0" y="274.6" width="133.4" height="135.6" fill="none" stroke="#111" stroke-width="1.3"/>
<path d="M473.5 274.6H476.0M473.5 301.7H476.0M473.5 328.8H476.0M473.5 356.0H476.0M473.5 383.1H476.0M473.5 410.2H476.0M476.0 410.2V412.8M542.7 410.2V412.8M609.4 410.2V412.8" stroke="#111" stroke-width="1" fill="none"/>
<path d="M477.00 395.40 L477.75 395.57 L478.50 395.73 L479.25 395.90 L480.00 396.07 L480.75 396.25 L481.50 396.42 L482.25 396.60 L483.00 396.78 L483.75 396.97 L484.50 397.16 L485.25 397.35 L486.00 397.56 L486.75 397.76 L487.50 397.98 L488.25 398.20 L489.00 398.43 L489.75 398.67 L490.50 398.91 L491.25 399.15 L492.00 399.39 L492.75 399.62 L493.50 399.83 L494.25 400.03 L495.00 400.21 L495.75 400.35 L496.50 400.48 L497.25 400.56 L498.00 400.61 L498.75 400.61 L499.50 400.57 L500.25 400.48 L501.00 400.33 L501.75 400.13 L502.50 399.87 L503.25 399.55 L504.00 399.18 L504.75 398.75 L505.50 398.27 L506.25 397.74 L507.00 397.16 L507.75 396.53 L508.50 395.85 L509.25 395.14 L510.00 394.39 L510.75 393.61 L511.50 392.81 L512.25 392.00 L513.00 391.17 L513.75 390.33 L514.50 389.50 L515.25 388.66 L516.00 387.81 L516.75 386.97 L517.50 386.11 L518.25 385.26 L519.00 384.40 L519.75 383.54 L520.50 382.67 L521.25 381.79 L522.00 380.91 L522.75 380.03 L523.50 379.16 L524.25 378.31 L525.00 377.49 L525.75 376.71 L526.50 375.98 L527.25 375.31 L528.00 374.71 L528.75 374.18 L529.50 373.73 L530.25 373.34 L531.00 373.01 L531.75 372.75 L532.50 372.56 L533.25 372.42 L534.00 372.34 L534.75 372.32 L535.50 372.36 L536.25 372.46 L537.00 372.63 L537.75 372.85 L538.50 373.14 L539.25 373.50 L540.00 373.92 L540.75 374.39 L541.50 374.92 L542.25 375.50 L543.00 376.13 L543.75 376.80 L544.50 377.51 L545.25 378.25 L546.00 379.03 L546.75 379.84 L547.50 380.67 L548.25 381.52 L549.00 382.39 L549.75 383.28 L550.50 384.17 L551.25 385.07 L552.00 385.97 L552.75 386.87 L553.50 387.76 L554.25 388.63 L555.00 389.48 L555.75 390.31 L556.50 391.11 L557.25 391.88 L558.00 392.62 L558.75 393.31 L559.50 393.95 L560.25 394.54 L561.00 395.10 L561.75 395.61 L562.50 396.09 L563.25 396.54 L564.00 396.96 L564.75 397.36 L565.50 397.75 L566.25 398.13 L567.00 398.49 L567.75 398.85 L568.50 399.19 L569.25 399.53 L570.00 399.85 L570.75 400.17 L571.50 400.47 L572.25 400.77 L573.00 401.05 L573.75 401.32 L574.50 401.57 L575.25 401.82 L576.00 402.05 L576.75 402.28 L577.50 402.49 L578.25 402.69 L579.00 402.88 L579.75 403.06 L580.50 403.24 L581.25 403.40 L582.00 403.55 L582.75 403.70 L583.50 403.84 L584.25 403.96 L585.00 404.09 L585.75 404.20 L586.50 404.31 L587.25 404.41 L588.00 404.50 L588.75 404.59 L589.50 404.68 L590.25 404.76 L591.00 404.84 L591.75 404.91 L592.50 404.98 L593.25 405.04 L594.00 405.11 L594.75 405.17 L595.50 405.23 L596.25 405.29 L597.00 405.35" fill="none" stroke="#6d6d6d" stroke-width="1.5"/>
<path d="M477.00 392.40 L477.75 392.43 L478.50 392.47 L479.25 392.50 L480.00 392.54 L480.75 392.58 L481.50 392.62 L482.25 392.66 L483.00 392.70 L483.75 392.75 L484.50 392.79 L485.25 392.84 L486.00 392.89 L486.75 392.94 L487.50 393.00 L488.25 393.05 L489.00 393.10 L489.75 393.15 L490.50 393.21 L491.25 393.27 L492.00 393.36 L492.75 393.47 L493.50 393.62 L494.25 393.76 L495.00 393.86 L495.75 393.88 L496.50 393.76 L497.25 393.48 L498.00 393.02 L498.75 392.42 L499.50 391.73 L500.25 390.99 L501.00 390.22 L501.75 389.43 L502.50 388.60 L503.25 387.67 L504.00 386.61 L504.75 385.38 L505.50 383.96 L506.25 382.38 L507.00 380.68 L507.75 378.91 L508.50 377.09 L509.25 375.29 L510.00 373.51 L510.75 371.77 L511.50 370.07 L512.25 368.44 L513.00 366.88 L513.75 365.40 L514.50 364.01 L515.25 362.73 L516.00 361.55 L516.75 360.50 L517.50 359.58 L518.25 358.79 L519.00 358.12 L519.75 357.58 L520.50 357.17 L521.25 356.87 L522.00 356.70 L522.75 356.65 L523.50 356.70 L524.25 356.85 L525.00 357.09 L525.75 357.40 L526.50 357.80 L527.25 358.30 L528.00 358.94 L528.75 359.74 L529.50 360.72 L530.25 361.90 L531.00 363.27 L531.75 364.82 L532.50 366.51 L533.25 368.33 L534.00 370.26 L534.75 372.25 L535.50 374.24 L536.25 376.19 L537.00 378.04 L537.75 379.81 L538.50 381.51 L539.25 383.19 L540.00 384.86 L540.75 386.51 L541.50 388.11 L542.25 389.61 L543.00 390.98 L543.75 392.18 L544.50 393.22 L545.25 394.11 L546.00 394.87 L546.75 395.54 L547.50 396.12 L548.25 396.64 L549.00 397.13 L549.75 397.60 L550.50 398.08 L551.25 398.55 L552.00 399.01 L552.75 399.46 L553.50 399.90 L554.25 400.32 L555.00 400.71 L555.75 401.08 L556.50 401.42 L557.25 401.74 L558.00 402.04 L558.75 402.32 L559.50 402.57 L560.25 402.80 L561.00 403.02 L561.75 403.21 L562.50 403.39 L563.25 403.55 L564.00 403.70 L564.75 403.83 L565.50 403.95 L566.25 404.06 L567.00 404.16 L567.75 404.26 L568.50 404.34 L569.25 404.43 L570.00 404.51 L570.75 404.59 L571.50 404.68 L572.25 404.76 L573.00 404.85 L573.75 404.94 L574.50 405.04 L575.25 405.13 L576.00 405.22 L576.75 405.32 L577.50 405.41 L578.25 405.50 L579.00 405.58 L579.75 405.67 L580.50 405.75 L581.25 405.82 L582.00 405.89 L582.75 405.96 L583.50 406.01 L584.25 406.06 L585.00 406.11 L585.75 406.15 L586.50 406.18 L587.25 406.20 L588.00 406.23 L588.75 406.24 L589.50 406.25 L590.25 406.26 L591.00 406.27 L591.75 406.27 L592.50 406.26 L593.25 406.26 L594.00 406.25 L594.75 406.24 L595.50 406.23 L596.25 406.22 L597.00 406.21" fill="none" stroke="#7c7c7c" stroke-width="1.2" stroke-dasharray="1.1 1.1"/>
<path d="M477.00 392.40 L477.75 392.42 L478.50 392.44 L479.25 392.46 L480.00 392.48 L480.75 392.51 L481.50 392.53 L482.25 392.57 L483.00 392.60 L483.75 392.64 L484.50 392.68 L485.25 392.73 L486.00 392.77 L486.75 392.81 L487.50 392.85 L488.25 392.88 L489.00 392.90 L489.75 392.91 L490.50 392.93 L491.25 392.97 L492.00 393.05 L492.75 393.18 L493.50 393.37 L494.25 393.57 L495.00 393.72 L495.75 393.72 L496.50 393.51 L497.25 393.00 L498.00 392.22 L498.75 391.23 L499.50 390.12 L500.25 388.96 L501.00 387.81 L501.75 386.65 L502.50 385.46 L503.25 384.20 L504.00 382.85 L504.75 381.38 L505.50 379.77 L506.25 378.03 L507.00 376.17 L507.75 374.21 L508.50 372.16 L509.25 370.03 L510.00 367.85 L510.75 365.64 L511.50 363.44 L512.25 361.26 L513.00 359.14 L513.75 357.12 L514.50 355.24 L515.25 353.54 L516.00 352.06 L516.75 350.82 L517.50 349.80 L518.25 349.00 L519.00 348.39 L519.75 347.96 L520.50 347.70 L521.25 347.59 L522.00 347.64 L522.75 347.85 L523.50 348.20 L524.25 348.71 L525.00 349.37 L525.75 350.18 L526.50 351.14 L527.25 352.29 L528.00 353.65 L528.75 355.25 L529.50 357.10 L530.25 359.16 L531.00 361.38 L531.75 363.67 L532.50 365.97 L533.25 368.22 L534.00 370.45 L534.75 372.68 L535.50 374.94 L536.25 377.24 L537.00 379.52 L537.75 381.70 L538.50 383.72 L539.25 385.53 L540.00 387.14 L540.75 388.56 L541.50 389.83 L542.25 390.95 L543.00 391.96 L543.75 392.85 L544.50 393.64 L545.25 394.36 L546.00 395.00 L546.75 395.59 L547.50 396.13 L548.25 396.64 L549.00 397.12 L549.75 397.60 L550.50 398.08 L551.25 398.55 L552.00 399.01 L552.75 399.47 L553.50 399.90 L554.25 400.32 L555.00 400.71 L555.75 401.08 L556.50 401.42 L557.25 401.74 L558.00 402.04 L558.75 402.31 L559.50 402.57 L560.25 402.80 L561.00 403.02 L561.75 403.21 L562.50 403.39 L563.25 403.55 L564.00 403.70 L564.75 403.83 L565.50 403.95 L566.25 404.06 L567.00 404.16 L567.75 404.26 L568.50 404.35 L569.25 404.43 L570.00 404.51 L570.75 404.59 L571.50 404.68 L572.25 404.76 L573.00 404.85 L573.75 404.94 L574.50 405.04 L575.25 405.13 L576.00 405.22 L576.75 405.32 L577.50 405.41 L578.25 405.50 L579.00 405.58 L579.75 405.67 L580.50 405.75 L581.25 405.82 L582.00 405.89 L582.75 405.96 L583.50 406.01 L584.25 406.06 L585.00 406.11 L585.75 406.15 L586.50 406.18 L587.25 406.20 L588.00 406.23 L588.75 406.24 L589.50 406.25 L590.25 406.26 L591.00 406.27 L591.75 406.27 L592.50 406.26 L593.25 406.26 L594.00 406.25 L594.75 406.24 L595.50 406.23 L596.25 406.22 L597.00 406.21" fill="none" stroke="#777" stroke-width="1.4" stroke-dasharray="6.5 2.6 1.2 2.6"/>
<rect x="546.6" y="73.2" width="4.8" height="27.1" fill="#cfcfcf"/>
<rect x="545.0" y="283.2" width="4.8" height="26.7" fill="#cfcfcf"/>
<text x="559.55" y="89.19" font-size="14.70" font-weight="bold" textLength="40.89" lengthAdjust="spacingAndGlyphs" fill="#000">50 μA</text>
<text x="557.85" y="299.19" font-size="14.70" font-weight="bold" textLength="40.99" lengthAdjust="spacingAndGlyphs" fill="#000">50 μA</text>
<text x="462.27" y="220.27" font-size="13.38" font-weight="bold" textLength="27.18" lengthAdjust="spacingAndGlyphs" fill="#000">-0.1</text>
<text x="595.99" y="220.40" font-size="13.77" font-weight="bold" textLength="20.99" lengthAdjust="spacingAndGlyphs" fill="#000">1.1</text>
<text x="494.80" y="239.30" font-size="15.90" font-weight="bold" textLength="98.32" lengthAdjust="spacingAndGlyphs" fill="#000">Potential (V)</text>
<text x="463.88" y="432.57" font-size="13.38" font-weight="bold" textLength="26.76" lengthAdjust="spacingAndGlyphs" fill="#000">-0.1</text>
<text x="597.08" y="432.70" font-size="13.77" font-weight="bold" textLength="21.31" lengthAdjust="spacingAndGlyphs" fill="#000">1.1</text>
<text x="497.02" y="451.50" font-size="15.80" font-weight="bold" textLength="97.20" lengthAdjust="spacingAndGlyphs" fill="#000">Potential (V)</text>
<text transform="translate(455.80,187.97) rotate(-90)" x="0" y="0" font-size="16.20" font-weight="bold" textLength="98.80" lengthAdjust="spacingAndGlyphs" fill="#000">Current (μA)</text>
<text transform="translate(459.00,393.35) rotate(-90)" x="0" y="0" font-size="16.20" font-weight="bold" textLength="95.65" lengthAdjust="spacingAndGlyphs" fill="#000">Current (μA)</text>
<path d="M620.0 104.9H644.8" fill="none" stroke="#8a8a8a" stroke-width="1.6" stroke-dasharray="7 4 1.6 4 7"/>
<path d="M620.0 127.3H644.8" fill="none" stroke="#a8a8a8" stroke-width="1.2" stroke-dasharray="1.1 1.1"/>
<path d="M620.0 149.6H644.8" fill="none" stroke="#858585" stroke-width="1.6"/>
<text x="655.86" y="107.90" font-size="13.80" font-weight="normal" textLength="86.49" lengthAdjust="spacingAndGlyphs" fill="#000">(i) PSNP/PEP</text>
<text x="655.84" y="130.30" font-size="13.80" font-weight="normal" textLength="48.33" lengthAdjust="spacingAndGlyphs" fill="#000">(ii) PEP</text>
<text x="655.78" y="152.60" font-size="13.80" font-weight="normal" textLength="57.36" lengthAdjust="spacingAndGlyphs" fill="#000">(iii) Bare</text>
<path d="M623.5 315.3H648.7" fill="none" stroke="#8a8a8a" stroke-width="1.6" stroke-dasharray="7 4 1.6 4 7"/>
<path d="M623.5 338.1H648.7" fill="none" stroke="#a8a8a8" stroke-width="1.2" stroke-dasharray="1.1 1.1"/>
<path d="M623.5 360.6H648.7" fill="none" stroke="#858585" stroke-width="1.6"/>
<text x="662.45" y="318.30" font-size="13.80" font-weight="normal" textLength="87.81" lengthAdjust="spacingAndGlyphs" fill="#000">(i) PSNP/PEP</text>
<text x="662.46" y="341.10" font-size="13.80" font-weight="normal" textLength="47.71" lengthAdjust="spacingAndGlyphs" fill="#000">(ii) PEP</text>
<text x="662.38" y="363.60" font-size="13.80" font-weight="normal" textLength="57.16" lengthAdjust="spacingAndGlyphs" fill="#000">(iii) Bare</text>
<g fill="#fff" stroke="#1a1a1a" stroke-width="1.0"><circle cx="93.90" cy="493.00" r="1.75"/><circle cx="97.82" cy="493.00" r="1.75"/><circle cx="101.74" cy="493.00" r="1.75"/><circle cx="105.66" cy="493.00" r="1.75"/><circle cx="109.58" cy="493.00" r="1.75"/><circle cx="113.50" cy="493.00" r="1.75"/></g>
<text x="121.19" y="498.54" font-size="14.12" font-weight="normal" textLength="112.52" lengthAdjust="spacingAndGlyphs" fill="#111">Biotinylated PEP</text>
<ellipse cx="279" cy="493.5" rx="12" ry="10.7" fill="url(#sphL)"/>
<text x="302.71" y="498.54" font-size="14.12" font-weight="normal" textLength="189.45" lengthAdjust="spacingAndGlyphs" fill="#111">Streptavidin-modified PSNP</text>
<ellipse cx="536.5" cy="493.8" rx="6.5" ry="6.1" fill="#f8c8a6" filter="url(#soft)"/>
<rect x="534.4" y="494.4" width="4.2" height="1.7" fill="#2b1d14"/>
<text x="557.18" y="496.78" font-size="14.87" font-weight="normal" textLength="51.56" lengthAdjust="spacingAndGlyphs" fill="#111">[Fe(CN)</text>
<text x="608.94" y="500.30" font-size="9.72" font-weight="normal" textLength="5.14" lengthAdjust="spacingAndGlyphs" fill="#111">6</text>
<text x="615.83" y="496.78" font-size="14.87" font-weight="normal" textLength="3.61" lengthAdjust="spacingAndGlyphs" fill="#111">]</text>
<text x="619.91" y="492.40" font-size="10.00" font-weight="normal" textLength="5.40" lengthAdjust="spacingAndGlyphs" fill="#111">4</text>
<rect x="626.5" y="489.4" width="2.5" height="1.1" fill="#555"/>
<path d="M112 533.4H728.8" stroke="#555" stroke-width="1.1" fill="none"/>
<path d="M112 533.4V744M728.8 533.4V744" stroke="#868686" stroke-width="1.5" fill="none"/>
<rect x="177" y="662.5" width="59.4" height="81.5" fill="#a6a6a6"/>
<rect x="236.4" y="612.8" width="59.6" height="131.2" fill="#bfbfbf"/>
<rect x="296" y="583.5" width="59.3" height="160.5" fill="#d9d9d9"/>
<rect x="485.6" y="682.3" width="58.9" height="61.7" fill="#a6a6a6"/>
<rect x="544.5" y="661.8" width="59.6" height="82.2" fill="#bfbfbf"/>
<rect x="604.1" y="655.5" width="59.6" height="88.5" fill="#d9d9d9"/>
<path d="M111 744H729.5" stroke="#555" stroke-width="1.4" fill="none"/>
<path d="M109.5 533.4H112M109.5 586.0H112M109.5 638.7H112M109.5 691.3H112M109.5 744.0H112M112 744V747M420.5 744V746.5M728.8 744V746.5" stroke="#777" stroke-width="1" fill="none"/>
<path d="M206.4 649.3V675.1M204.1 649.3H208.70000000000002M204.1 675.1H208.70000000000002M266.3 567V658.4M264.0 567H268.6M264.0 658.4H268.6M325.5 577.3V589.3M323.2 577.3H327.8M323.2 589.3H327.8M514.7 678.6V685.6M512.4000000000001 678.6H517.0M512.4000000000001 685.6H517.0M575 651V672.2M572.7 651H577.3M572.7 672.2H577.3M633.9 639.5V670.4M631.6 639.5H636.1999999999999M631.6 670.4H636.1999999999999" stroke="#555" stroke-width="1" fill="none"/>
<text x="72.17" y="537.16" font-size="14.23" font-weight="bold" textLength="25.40" lengthAdjust="spacingAndGlyphs" fill="#000">200</text>
<text x="70.77" y="588.25" font-size="14.51" font-weight="bold" textLength="25.80" lengthAdjust="spacingAndGlyphs" fill="#000">150</text>
<text x="70.76" y="640.95" font-size="14.51" font-weight="bold" textLength="26.01" lengthAdjust="spacingAndGlyphs" fill="#000">100</text>
<text x="77.51" y="693.55" font-size="14.51" font-weight="bold" textLength="18.18" lengthAdjust="spacingAndGlyphs" fill="#000">50</text>
<text x="86.11" y="746.15" font-size="14.51" font-weight="bold" textLength="9.60" lengthAdjust="spacingAndGlyphs" fill="#000">0</text>
<text transform="translate(51.40,719.45) rotate(-90)" x="0" y="0" font-size="16.10" font-weight="bold" textLength="135.21" lengthAdjust="spacingAndGlyphs" fill="#000">Peak current (μA)</text>
<text x="186.03" y="557.80" font-size="13.62" font-weight="normal" textLength="36.45" lengthAdjust="spacingAndGlyphs" fill="#111">BARE</text>
<text x="251.73" y="557.80" font-size="13.62" font-weight="normal" textLength="26.65" lengthAdjust="spacingAndGlyphs" fill="#111">PEP</text>
<text x="294.30" y="557.90" font-size="13.10" font-weight="normal" textLength="68.51" lengthAdjust="spacingAndGlyphs" fill="#111">PSNP/PEP</text>
<text x="491.19" y="557.80" font-size="13.62" font-weight="normal" textLength="37.92" lengthAdjust="spacingAndGlyphs" fill="#111">BARE</text>
<text x="556.41" y="557.80" font-size="13.62" font-weight="normal" textLength="27.18" lengthAdjust="spacingAndGlyphs" fill="#111">PEP</text>
<text x="599.30" y="557.90" font-size="13.10" font-weight="normal" textLength="68.82" lengthAdjust="spacingAndGlyphs" fill="#111">PSNP/PEP</text>
<text x="241.91" y="770.76" font-size="16.37" font-weight="bold" textLength="50.29" lengthAdjust="spacingAndGlyphs" fill="#000">pH 4.6</text>
<text x="561.88" y="769.80" font-size="14.29" font-weight="bold" textLength="51.52" lengthAdjust="spacingAndGlyphs" fill="#000">pH 7.2</text>
</svg>
</body></html>
